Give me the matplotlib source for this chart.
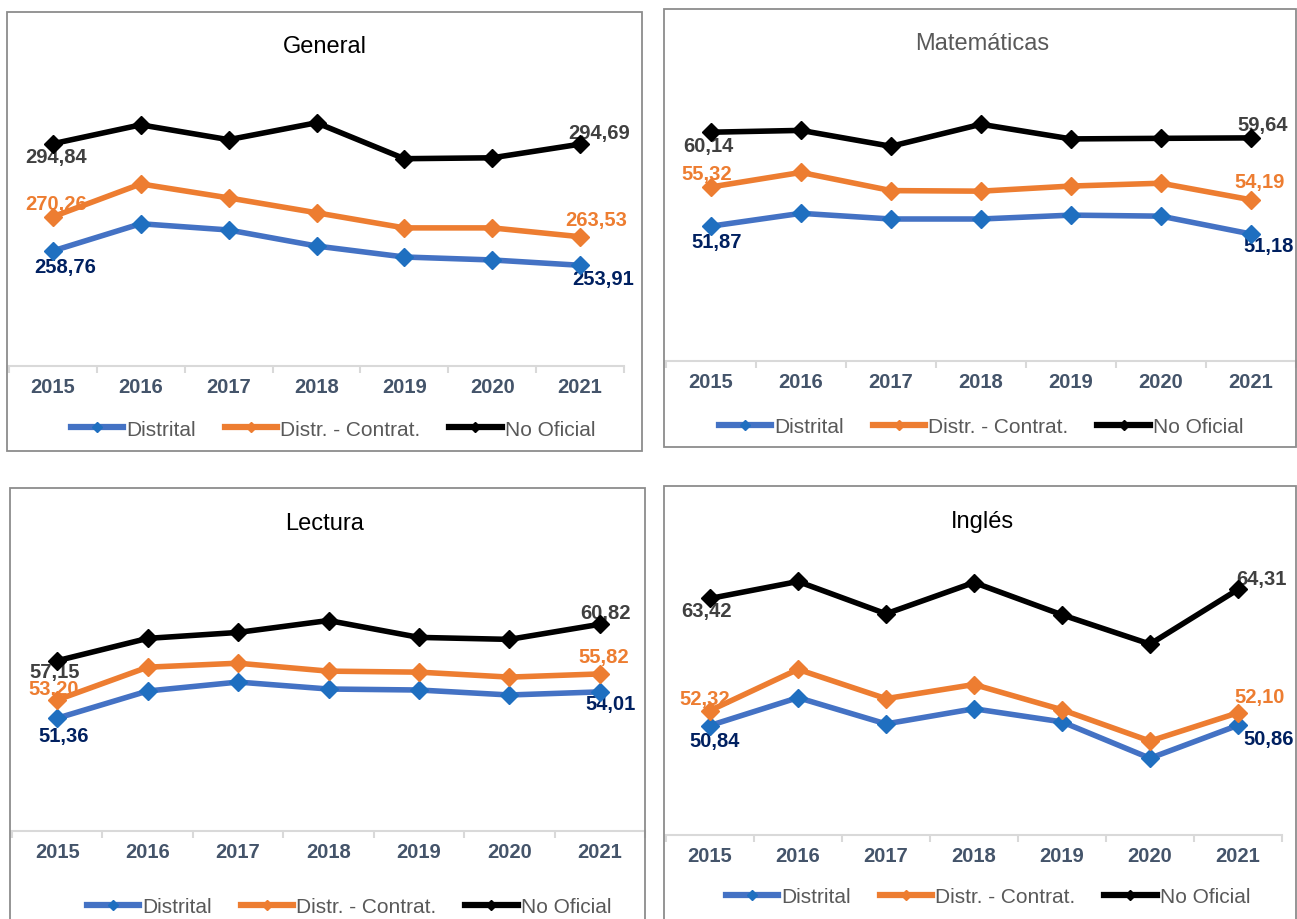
import matplotlib
matplotlib.use("Agg")
import matplotlib.pyplot as plt
from matplotlib.lines import Line2D
from matplotlib.patches import Rectangle

plt.rcParams['font.family'] = ['Liberation Sans', 'DejaVu Sans']

years = ['2015', '2016', '2017', '2018', '2019', '2020', '2021']
series_names = ['Distrital', 'Distr. - Contrat.', 'No Oficial']

gen_distrital = [258.76, 267.9, 265.8, 260.4, 256.7, 255.7, 253.91]
gen_contrat = [270.26, 281.3, 276.6, 271.6, 266.5, 266.5, 263.53]
gen_nooficial = [294.84, 301.2, 296.2, 301.9, 289.8, 290.1, 294.69]

mat_distrital = [51.87, 53.0, 52.5, 52.5, 52.84, 52.75, 51.18]
mat_contrat = [55.32, 56.6, 55.0, 54.95, 55.4, 55.65, 54.19]
mat_nooficial = [60.14, 60.3, 58.9, 60.84, 59.55, 59.6, 59.64]

lec_distrital = [51.36, 54.1, 55.0, 54.3, 54.2, 53.7, 54.01]
lec_contrat = [53.20, 56.5, 56.9, 56.1, 56.0, 55.5, 55.82]
lec_nooficial = [57.15, 59.4, 60.0, 61.2, 59.5, 59.3, 60.82]

ing_distrital = [50.84, 53.6, 51.0, 52.5, 51.2, 47.6, 50.86]
ing_contrat = [52.32, 56.4, 53.5, 54.9, 52.4, 49.3, 52.10]
ing_nooficial = [63.42, 65.1, 61.9, 65.0, 61.8, 58.9, 64.31]

W, H = 1297, 920
line_colors = ['#4472C4', '#ED7D31', '#000000']
marker_colors = ['#1F6FC0', '#ED7D31', '#000000']
label_colors = ['#002060', '#ED7D31', '#404040']

# panel layout in pixels
panels = [
    dict(title='General', title_color='black', data=[gen_distrital, gen_contrat, gen_nooficial],
         box=(7, 13, 642, 452), ax=(9, 624, 70, 367), ylim=(220, 320), title_xy=(325, 47),
         leg_xy=(333, 430),
         offs=[((12, -16), (23, -13)), ((3, 13), (16, 17)), ((3, -13), (19, 12))]),
    dict(title='Matemáticas', title_color='#595959', data=[mat_distrital, mat_contrat, mat_nooficial],
         box=(664, 10, 1296, 448), ax=(666, 1296, 78, 362), ylim=(40, 65), title_xy=(982, 44),
         leg_xy=(981, 428),
         offs=[((6, -15), (18, -12)), ((-4, 13), (9, 18)), ((-3, -13), (12, 13))]),
    dict(title='Lectura', title_color='black', data=[lec_distrital, lec_contrat, lec_nooficial],
         box=(10, 489, 645, 925), ax=(12, 645, 554, 832), ylim=(40, 68), title_xy=(325, 524),
         leg_xy=(349, 908),
         offs=[((6, -17), (11, -12)), ((-4, 11), (4, 17)), ((-3, -11), (6, 12))]),
    dict(title='Inglés', title_color='black', data=[ing_distrital, ing_contrat, ing_nooficial],
         box=(664, 487, 1296, 925), ax=(666, 1282, 533, 836), ylim=(40, 70), title_xy=(982, 522),
         leg_xy=(988, 898),
         offs=[((5, -15), (31, -13)), ((-5, 12), (22, 16)), ((-3, -12), (23, 11))]),
]


def fmt(v):
    return ('%.2f' % v).replace('.', ',')


fig = plt.figure(figsize=(W / 100, H / 100), dpi=100)
fig.patch.set_facecolor('white')

x = list(range(len(years)))
for p in panels:
    x0, y0, x1, y1 = p['box']
    fig.patches.append(Rectangle((x0 / W, 1 - y1 / H), (x1 - x0) / W, (y1 - y0) / H,
                                 transform=fig.transFigure, fill=False,
                                 edgecolor='#8C8C8C', linewidth=1.3))
    l, r, t, b = p['ax']
    ax = fig.add_axes([l / W, 1 - b / H, (r - l) / W, (b - t) / H])
    ax.set_facecolor('none')
    ax.set_xlim(-0.5, len(years) - 0.5)
    ax.set_ylim(*p['ylim'])
    for k, vals in enumerate(p['data']):
        ax.plot(x, vals, color=line_colors[k], lw=4, marker='D', ms=9,
                mfc=marker_colors[k], mec=marker_colors[k], zorder=3 + k)
        for j, (dx, dy) in zip([0, len(years) - 1], p['offs'][k]):
            ax.annotate(fmt(vals[j]), (x[j], vals[j]), xytext=(dx, dy),
                        textcoords='offset pixels', ha='center', va='center',
                        fontsize=14.5, fontweight='bold', color=label_colors[k],
                        zorder=2 + k, annotation_clip=False)
    for s in ['left', 'right', 'top']:
        ax.spines[s].set_visible(False)
    ax.spines['bottom'].set_color('#D9D9D9')
    ax.spines['bottom'].set_linewidth(1.5)
    ax.set_yticks([])
    ax.set_xticks(x)
    ax.set_xticklabels(years, fontsize=14.5, fontweight='bold', color='#44546A')
    ax.tick_params(axis='x', which='major', length=0, pad=8)
    ax.set_xticks([i - 0.5 for i in range(len(years) + 1)], minor=True)
    ax.tick_params(axis='x', which='minor', length=5, width=1.5, color='#D9D9D9')

    fig.text(p['title_xy'][0] / W, 1 - p['title_xy'][1] / H, p['title'],
             ha='center', va='center', fontsize=17, color=p['title_color'])

    handles = [Line2D([0], [0], color=line_colors[k], lw=4.5, marker='D', ms=5,
                      mfc=marker_colors[k], mec=marker_colors[k]) for k in range(3)]
    ax.legend(handles, series_names, loc='center', ncol=3,
              bbox_to_anchor=(p['leg_xy'][0] / W, 1 - p['leg_xy'][1] / H),
              bbox_transform=fig.transFigure, frameon=False, fontsize=15,
              handlelength=2.5, handletextpad=0.15, columnspacing=1.4,
              labelcolor='#595959')

fig.savefig('out.png', dpi=100, facecolor='white')
